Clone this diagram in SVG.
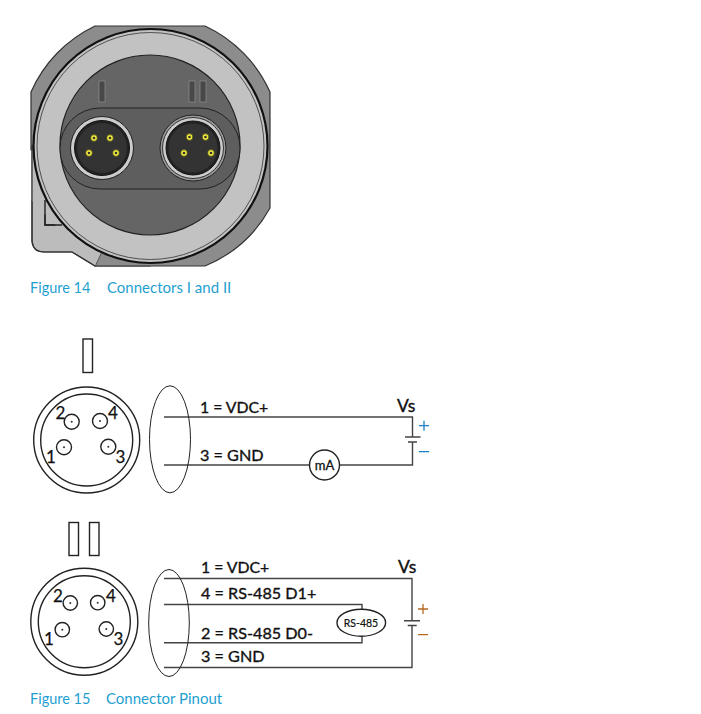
<svg xmlns="http://www.w3.org/2000/svg" width="701" height="714" viewBox="0 0 701 714">
<style>
text{font-family:"Lato","Liberation Sans",sans-serif}
.lb{font-size:16.200px;fill:#111;stroke:#111;stroke-width:.35}
.ls{font-size:15.800px;fill:#111;stroke:#111;stroke-width:.35}
.n{font-size:17px;fill:#111;stroke:#111;stroke-width:.25}
.vs{font-size:17.500px;fill:#111;stroke:#111;stroke-width:.35}
.cap{fill:#1f9fd0}
.c1{font-size:14.500px}
.c2{font-size:15px}
.w{fill:none;stroke:#444;stroke-width:1.400}
.t{fill:none;stroke:#222;stroke-width:1.400}
.pin{fill:#f2ec3c;stroke:#3a3a20;stroke-width:.8}
</style>
<rect width="701" height="714" fill="#fff"/>
<g id="photo">
<path d="M32 92V241Q33 252 44 252H72L95 266H150V92Z" fill="#bcbcbc" stroke="#333" stroke-width="1.200"/>
<path d="M95 26H205A132 132 0 0 1 270 92V208A132 132 0 0 1 205 266H95L150 146L31 150V92A132 132 0 0 1 95 26Z" fill="#8c8c8c" stroke="#333" stroke-width="1.200"/>
<path d="M45 200V225H62" fill="none" stroke="#222" stroke-width="1.400"/>
<path d="M150 146L31 150V200L95 266Z" fill="#bcbcbc"/>
<path d="M32 145V241Q33 252 44 252H72L95 266" fill="none" stroke="#333" stroke-width="1.200"/>
<path d="M45 200V225H62" fill="none" stroke="#222" stroke-width="1.400"/>
<circle cx="150.500" cy="146" r="117" fill="#c2c2c2" stroke="#111" stroke-width="2.200"/>
<circle cx="150.500" cy="146" r="113.500" fill="none" stroke="#333" stroke-width=".8"/>
<circle cx="150" cy="145" r="90" fill="#656565" stroke="#222" stroke-width="1.200"/>
<rect x="60" y="108" width="180" height="81" rx="40" fill="#5e5e5e" stroke="#222" stroke-width="1"/>
<g fill="#484848" stroke="#888" stroke-width=".8">
<rect x="99" y="81" width="6" height="21"/><rect x="189" y="81" width="6" height="21"/><rect x="200" y="81" width="6" height="21"/>
</g>
<g id="connector-1">
<circle cx="102" cy="148" r="31.500" fill="#ccc" stroke="#222"/>
<circle cx="102" cy="148" r="27.500" fill="#222" stroke="#111"/>
<circle cx="102" cy="148" r="25" fill="#333"/>
<g class="pin"><circle cx="94" cy="138" r="3.400"/><circle cx="110" cy="138" r="3.400"/><circle cx="89" cy="153" r="3.400"/><circle cx="116" cy="153" r="3.400"/></g>
<g fill="#333"><circle cx="94" cy="138" r="1.300"/><circle cx="110" cy="138" r="1.300"/><circle cx="89" cy="153" r="1.300"/><circle cx="116" cy="153" r="1.300"/></g>
</g>
<g id="connector-2">
<circle cx="193" cy="148" r="33" fill="#999" stroke="#222"/>
<circle cx="193" cy="148" r="30.500" fill="#ccc" stroke="#333"/>
<circle cx="193" cy="148" r="27" fill="#222" stroke="#111"/>
<circle cx="193" cy="148" r="24.500" fill="#333"/>
<g class="pin"><circle cx="189.500" cy="137" r="3.400"/><circle cx="205.500" cy="137" r="3.400"/><circle cx="184" cy="153" r="3.400"/><circle cx="211" cy="153" r="3.400"/></g>
<g fill="#333"><circle cx="189.500" cy="137" r="1.300"/><circle cx="205.500" cy="137" r="1.300"/><circle cx="184" cy="153" r="1.300"/><circle cx="211" cy="153" r="1.300"/></g>
</g>
</g>
<text class="cap c1" x="30" y="293">Figure 14</text>
<text class="cap c2" x="107" y="293">Connectors I and II</text>

<g id="connectors">
<path class="w" d="M164 417H412.500V437M412.500 442V465H339.500M309.500 465H164"/>
<path class="w" d="M164 578.500H412V620.500M412 625.500V667.500H164M164 604.500H362V609.500M362 636V642.700H164"/>
<path d="M405 437H420.500M408 442H417M404 620.700H420M407.700 625.500H416.700" fill="none" stroke="#444" stroke-width="1.400"/>
<path d="M419 425.700H429M424 420.700V430.700M419 451.700H429" fill="none" stroke="#1f7fc0" stroke-width="1.300"/>
<path d="M418 609H428M423 604V614M418 634.700H428" fill="none" stroke="#b8691e" stroke-width="1.300"/>
</g>

<g id="pinout-1">
<rect class="t" x="83" y="339" width="9.500" height="33.500"/>
<circle class="t" cx="86.700" cy="440" r="53"/>
<circle class="t" cx="86.700" cy="440" r="46"/>
<g class="t"><circle cx="71.700" cy="421.700" r="7.500"/><circle cx="100" cy="421" r="7.500"/><circle cx="64" cy="447.300" r="7.500"/><circle cx="108.300" cy="446.700" r="7.500"/></g>
<g fill="#333"><circle cx="71.700" cy="421.700" r="1"/><circle cx="100" cy="421" r="1"/><circle cx="64" cy="447.300" r="1"/><circle cx="108.300" cy="446.700" r="1"/></g>
<text class="n" x="55.500" y="419">2</text><text class="n" x="108" y="419">4</text><text class="n" x="46" y="462.500">1</text><text class="n" x="115.500" y="462.500">3</text>
<ellipse cx="170" cy="439.300" rx="20.500" ry="53.500" fill="none" stroke="#222" stroke-width="1"/>
</g>
<g id="meter">
<circle class="t" cx="324.500" cy="465" r="15" fill="#fff"/>
<text x="324.500" y="470" text-anchor="middle" font-size="13" stroke="#111" stroke-width=".3" fill="#111">mA</text>
</g>
<text class="ls" x="200" y="412.500">1 = VDC+</text>
<text class="lb" x="200" y="460.700">3 = GND</text>
<text class="vs" x="397" y="411.500">Vs</text>

<g id="pinout-2">
<rect class="t" x="69" y="522.500" width="9.500" height="33"/>
<rect class="t" x="89.500" y="522.500" width="9.500" height="33"/>
<circle class="t" cx="84.300" cy="621.700" r="53.500"/>
<circle class="t" cx="84.300" cy="621.700" r="46"/>
<g class="t"><circle cx="70.300" cy="603" r="7.200"/><circle cx="97.700" cy="602.700" r="7.200"/><circle cx="62.300" cy="629.700" r="7.200"/><circle cx="106.300" cy="629" r="7.200"/></g>
<g fill="#333"><circle cx="70.300" cy="603" r="1"/><circle cx="97.700" cy="602.700" r="1"/><circle cx="62.300" cy="629.700" r="1"/><circle cx="106.300" cy="629" r="1"/></g>
<text class="n" x="53" y="602">2</text><text class="n" x="106" y="602">4</text><text class="n" x="44" y="644.500">1</text><text class="n" x="113.500" y="644.500">3</text>
<ellipse cx="169" cy="623" rx="20.300" ry="53.500" fill="none" stroke="#222" stroke-width="1"/>
</g>
<g id="rs485">
<ellipse class="t" cx="361.300" cy="622.700" rx="24.300" ry="13.500" fill="#fff"/>
<text x="361" y="626.500" text-anchor="middle" font-size="10.500" stroke="#111" stroke-width=".2" fill="#111">RS-485</text>
</g>
<text class="ls" x="201" y="572.700">1 = VDC+</text>
<text class="lb" x="201" y="598.700">4 = RS-485 D1+</text>
<text class="lb" x="201" y="639">2 = RS-485 D0-</text>
<text class="lb" x="201" y="661.700">3 = GND</text>
<text class="vs" x="398" y="572.500">Vs</text>
<text class="cap c1" x="30" y="704">Figure 15</text>
<text class="cap c2" x="106" y="704">Connector Pinout</text>
</svg>
